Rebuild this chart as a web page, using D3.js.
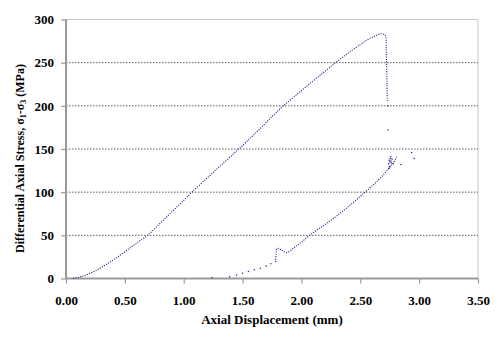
<!DOCTYPE html>
<html>
<head>
<meta charset="utf-8">
<script src="https://cdn.jsdelivr.net/npm/d3@7"></script>
<style>
  html, body { margin: 0; padding: 0; background: #fff; }
  svg text { font-family: "Liberation Serif", "Times New Roman", serif; font-weight: bold; fill: #000; }
</style>
</head>
<body>
<svg id="chart" width="500" height="340"></svg>
<script>
// Axis ticks
const xTicks = [0, 0.5, 1.0, 1.5, 2.0, 2.5, 3.0, 3.5];
const yTicks = [0, 50, 100, 150, 200, 250, 300];

// Initial loading to peak and post-peak stress drop: [displacement mm, stress MPa]
const loading = [
  [0.06, 0], [0.15, 3], [0.25, 9], [0.35, 17], [0.45, 26], [0.55, 36],
  [0.62, 43], [0.693, 50], [0.80, 64], [0.90, 77.5], [1.00, 90.5], [1.07, 100],
  [1.20, 116.5], [1.30, 129], [1.468, 150], [1.60, 167], [1.75, 187.5],
  [1.846, 200], [2.00, 217.5], [2.064, 225], [2.178, 237.5], [2.29, 250],
  [2.40, 261.5], [2.50, 271], [2.561, 276.5], [2.62, 280.5], [2.675, 283.5],
  [2.705, 282.5], [2.717, 280], [2.72, 265], [2.724, 245], [2.727, 225], [2.73, 206]
];

// Scattered readings after failure
const scatter = [
  [2.735, 200], [2.735, 172],
  [2.74, 133], [2.745, 137], [2.75, 135], [2.755, 139], [2.76, 136], [2.765, 134],
  [2.75, 130], [2.77, 138], [2.745, 128], [2.76, 141], [2.78, 133],
  [2.845, 132], [2.936, 146], [2.958, 139]
];

// Reloading: sparse early readings
const reloadSparse = [
  [1.24, 1], [1.39, 2], [1.45, 4], [1.50, 6], [1.55, 8], [1.60, 10],
  [1.65, 12], [1.70, 14.5], [1.74, 17]
];

// Reloading: continuous part
const reloading = [
  [1.78, 19], [1.785, 28], [1.795, 35], [1.83, 33], [1.874, 30], [1.93, 35],
  [1.99, 41], [2.07, 50], [2.20, 62.5], [2.30, 72.5], [2.40, 83.5], [2.54, 100],
  [2.65, 113.5], [2.73, 125.5], [2.78, 134], [2.81, 141]
];

const svg = d3.select("#chart");
const margin = { left: 66, right: 22, top: 19.5, bottom: 61.5 };
const W = 500, H = 340;
const x = d3.scaleLinear().domain([0, 3.5]).range([margin.left, W - margin.right]);
const y = d3.scaleLinear().domain([0, 300]).range([H - margin.bottom, margin.top]);
const fmtX = d3.format(".2f");
const markColor = "#24248a";
const serif = '"Liberation Serif", "Times New Roman", serif';

// Plot frame
svg.append("rect")
  .attr("x", x(0)).attr("y", y(300))
  .attr("width", x(3.5) - x(0)).attr("height", y(0) - y(300))
  .attr("fill", "none").attr("stroke", "#c8c8c8").attr("stroke-width", 1);

// Gridlines
svg.append("g").selectAll("line")
  .data(yTicks.filter(d => d > 0 && d < 300))
  .join("line")
  .attr("x1", x(0)).attr("x2", x(3.5))
  .attr("y1", d => y(d)).attr("y2", d => y(d))
  .attr("stroke", "#333").attr("stroke-width", 0.8)
  .attr("stroke-dasharray", "1.5,1.5");

// Axes
const xAxis = svg.append("g")
  .attr("transform", `translate(0,${y(0)})`)
  .call(d3.axisBottom(x).tickValues(xTicks).tickFormat(fmtX).tickSize(5).tickPadding(12));
const yAxis = svg.append("g")
  .attr("transform", `translate(${x(0)},0)`)
  .call(d3.axisLeft(y).tickValues(yTicks).tickSize(5).tickPadding(7));

[xAxis, yAxis].forEach(g => {
  g.attr("font-family", serif).attr("font-size", 13).attr("font-weight", "bold");
  g.select(".domain").attr("stroke", "#9a9a9a").attr("stroke-width", 2);
  g.selectAll(".tick line").attr("stroke", "#9a9a9a").attr("stroke-width", 1.2);
  g.selectAll(".tick text")
    .style("font-family", serif)
    .style("font-weight", "bold").style("font-size", "13px").attr("fill", "#000");
});
xAxis.select(".domain").attr("d", `M${x(0)},0H${x(3.5)}`);
yAxis.select(".domain").attr("d", `M0,${y(0)}V${y(300)}`);

// Curves drawn as closely spaced readings
const line = d3.line().curve(d3.curveCatmullRom.alpha(0.5)).x(d => x(d[0])).y(d => y(d[1]));
[loading, reloading].forEach(series => {
  svg.append("path")
    .datum(series)
    .attr("d", line)
    .attr("fill", "none")
    .attr("stroke", markColor)
    .attr("stroke-width", 1.1)
    .attr("stroke-dasharray", "1.1,1.3");
});

svg.append("g").selectAll("circle")
  .data(reloadSparse.concat(scatter))
  .join("circle")
  .attr("cx", d => x(d[0])).attr("cy", d => y(d[1]))
  .attr("r", 0.75).attr("fill", markColor);

// Axis titles
svg.append("text")
  .attr("x", (x(0) + x(3.5)) / 2).attr("y", 324)
  .attr("text-anchor", "middle").style("font-size", "13px")
  .text("Axial Displacement (mm)");

const yt = svg.append("text")
  .attr("transform", `translate(24,253) rotate(-90)`)
  .attr("text-anchor", "start").style("font-size", "12px");
yt.append("tspan").text("Differential Axial Stress, σ");
yt.append("tspan").attr("dy", 2).style("font-size", "8px").text("1");
yt.append("tspan").attr("dy", -2).text("-σ");
yt.append("tspan").attr("dy", 2).style("font-size", "8px").text("3");
yt.append("tspan").attr("dy", -2).text(" (MPa)");
</script>
</body>
</html>
